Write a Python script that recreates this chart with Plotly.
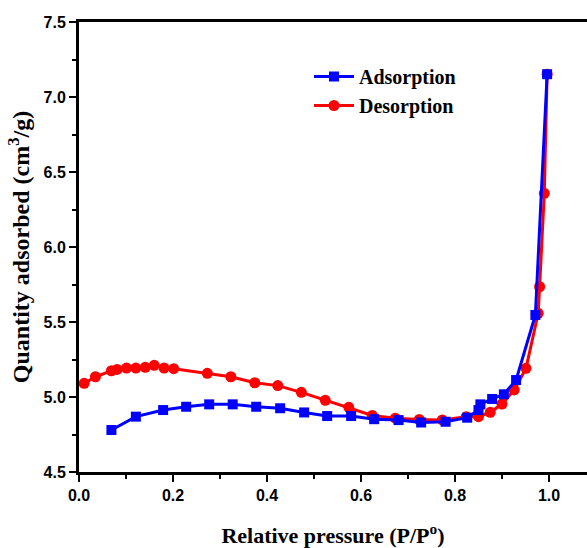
import plotly.graph_objects as go

# Adsorption branch (P/P0, quantity adsorbed in cm3/g)
ads_p = [0.069, 0.121, 0.179, 0.228, 0.277, 0.327, 0.377, 0.428, 0.479, 0.528,
         0.579, 0.628, 0.680, 0.728, 0.780, 0.826, 0.850, 0.854, 0.879, 0.904,
         0.930, 0.971, 0.996]
ads_q = [4.780, 4.869, 4.913, 4.935, 4.951, 4.951, 4.935, 4.925, 4.897, 4.873,
         4.873, 4.852, 4.846, 4.830, 4.835, 4.862, 4.913, 4.951, 4.987, 5.018,
         5.113, 5.547, 7.152]

# Desorption branch
des_p = [0.011, 0.035, 0.069, 0.081, 0.101, 0.121, 0.141, 0.160, 0.181, 0.2015,
         0.273, 0.323, 0.374, 0.423, 0.473, 0.524, 0.574, 0.624, 0.673, 0.724,
         0.773, 0.824, 0.850, 0.875, 0.900, 0.926, 0.951, 0.977, 0.980, 0.990,
         0.996]
des_q = [5.091, 5.135, 5.175, 5.184, 5.193, 5.193, 5.198, 5.211, 5.193, 5.189,
         5.158, 5.135, 5.095, 5.076, 5.031, 4.978, 4.931, 4.877, 4.859, 4.850,
         4.847, 4.869, 4.869, 4.898, 4.953, 5.047, 5.191, 5.558, 5.735, 6.358,
         7.152]

x_ticks = [0.0, 0.2, 0.4, 0.6, 0.8, 1.0]
x_tick_text = ["0.0", "0.2", "0.4", "0.6", "0.8", "1.0"]
y_ticks = [4.5, 5.0, 5.5, 6.0, 6.5, 7.0, 7.5]
y_tick_text = ["4.5", "5.0", "5.5", "6.0", "6.5", "7.0", "7.5"]

W, H = 587, 548
ML, MR, MT, MB = 79, 0, 22, 76
X_PER_UNIT = 470.0
x_max = (W - ML - MR) / X_PER_UNIT

fig = go.Figure()
# desorption first so the adsorption curve sits on top
fig.add_trace(go.Scatter(
    x=des_p, y=des_q, mode="lines+markers", name="<b>Desorption</b>",
    line=dict(color="#ff0000", width=3),
    marker=dict(symbol="circle", size=11, color="#ff0000"),
))
fig.add_trace(go.Scatter(
    x=ads_p, y=ads_q, mode="lines+markers", name="<b>Adsorption</b>",
    line=dict(color="#0000ff", width=3),
    marker=dict(symbol="square", size=10, color="#0000ff"),
))

tick_font = dict(family="Liberation Sans", size=16, color="black")
serif = "Liberation Serif"

fig.update_layout(
    width=W, height=H,
    margin=dict(l=ML, r=MR, t=MT, b=MB, pad=0),
    paper_bgcolor="white", plot_bgcolor="white",
    showlegend=True,
    legend=dict(
        x=(309 - ML) / (W - ML - MR), y=(472 - 57) / 450,
        xanchor="left", yanchor="top",
        bgcolor="rgba(0,0,0,0)", borderwidth=0,
        font=dict(family=serif, size=20, color="black"),
        traceorder="reversed", itemwidth=40, tracegroupgap=0,
    ),
    xaxis=dict(
        range=[0, x_max], tickmode="array", tickvals=x_ticks,
        ticktext=[f"<b>{t}</b>" for t in x_tick_text],
        showgrid=False, zeroline=False,
        showline=True, linecolor="black", linewidth=3, mirror=True,
        ticks="outside", ticklen=7, tickwidth=2, tickcolor="black",
        tickfont=tick_font,
        minor=dict(dtick=0.1, ticks="outside", ticklen=4, tickwidth=2, tickcolor="black"),
        title=dict(text="<b>Relative pressure (P/P<sup>o</sup>)</b>",
                   font=dict(family=serif, size=22, color="black"), standoff=25),
    ),
    yaxis=dict(
        range=[4.5, 7.5], tickmode="array", tickvals=y_ticks,
        ticktext=[f"<b>{t}</b>" for t in y_tick_text],
        showgrid=False, zeroline=False,
        showline=True, linecolor="black", linewidth=3, mirror=False,
        ticks="outside", ticklen=7, tickwidth=2, tickcolor="black",
        tickfont=tick_font,
        minor=dict(dtick=0.25, ticks="outside", ticklen=4, tickwidth=2, tickcolor="black"),
        title=dict(text="<b>Quantity adsorbed (cm<sup>3</sup>/g)</b>",
                   font=dict(family=serif, size=24, color="black"), standoff=8),
    ),
)

fig.write_html("out.html")
